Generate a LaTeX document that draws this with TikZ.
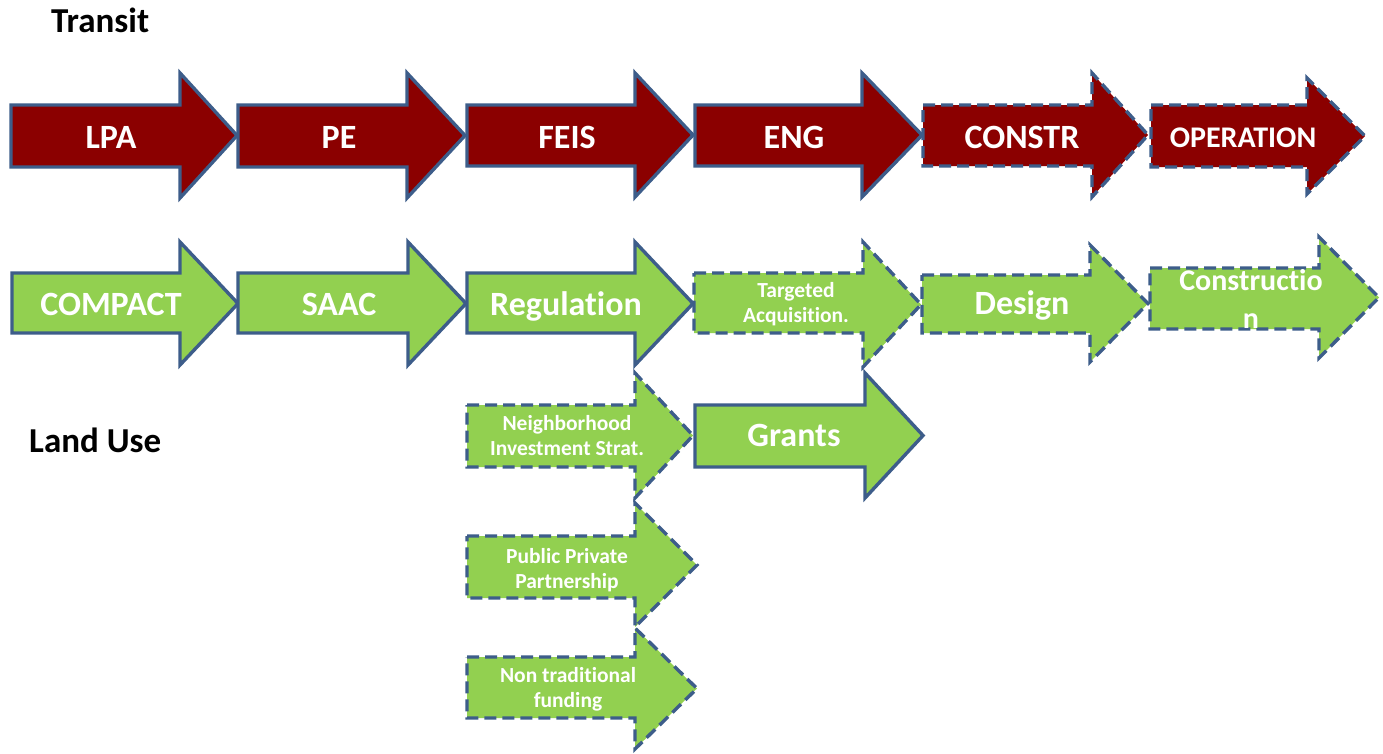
\documentclass[tikz,border=0pt]{standalone}
\usepackage{fontspec}
\setmainfont{Carlito}[Ligatures=NoCommon]
\definecolor{tred}{RGB}{139,0,0}
\definecolor{lgreen}{RGB}{146,208,80}
\definecolor{edgeblue}{RGB}{61,93,138}
% #1 style, #2 left, #3 body top, #4 body bottom, #5 head base x, #6 head top, #7 head bottom, #8 tip x
\newcommand\arrowshape[8]{\draw[#1] (#2,#3) -- (#5,#3) -- (#5,#6) -- (#8,{(#6+#7)/2}) -- (#5,#7) -- (#5,#4) -- (#2,#4) -- cycle;}
\tikzset{
  arrbase/.style={draw=edgeblue, line width=3.4pt, line join=miter},
  redsolid/.style={arrbase, fill=tred},
  reddash/.style={arrbase, fill=tred, dash pattern=on 12pt off 6pt},
  greensolid/.style={arrbase, fill=lgreen},
  greendash/.style={arrbase, fill=lgreen, dash pattern=on 12pt off 6pt},
  biglbl/.style={text=white, font=\bfseries\fontsize{34}{40}\selectfont, anchor=base, inner sep=0pt},
  midlbl/.style={text=white, font=\bfseries\fontsize{30}{38}\selectfont, anchor=base, inner sep=0pt, align=center},
  smalllbl/.style={text=white, font=\bfseries\fontsize{21.5}{25}\selectfont, anchor=base, inner sep=0pt, align=center},
  titlelbl/.style={text=black, font=\bfseries\fontsize{35}{40}\selectfont, anchor=base west, inner sep=0pt}
}
\begin{document}
\begin{tikzpicture}[x=1pt,y=-1pt]
\fill[white] (0,0) rectangle (1383,753);
\useasboundingbox (0,0) rectangle (1383,753);

% titles
\node[titlelbl] (transit) at (51,32) {Transit};
\node[titlelbl] (landuse) at (29,452) {Land Use};

% Transit row
\arrowshape{redsolid}{11}{105}{167}{180}{73}{198}{237}
\arrowshape{redsolid}{238}{105}{167}{407}{73}{198}{465}
\arrowshape{redsolid}{467}{105}{166}{635}{73}{197}{693}
\arrowshape{redsolid}{695}{105}{166}{862}{73}{197}{922}
\arrowshape{reddash}{923}{105}{166}{1092}{73}{197}{1148}
\arrowshape{reddash}{1151}{105}{167}{1307}{78}{194}{1365}

\node[biglbl] (lpa) at (111,148) {LPA};
\node[biglbl] (pe) at (339,148) {PE};
\node[biglbl] (feis) at (567,148) {FEIS};
\node[biglbl] (eng) at (794,148) {ENG};
\node[biglbl] (constr) at (1022,148) {CONSTR};
\node[biglbl, font=\bfseries\fontsize{30}{36}\selectfont] (operation) at (1243,147) {OPERATION};

% Land use row
\arrowshape{greensolid}{12}{273}{333}{180}{242}{365}{238}
\arrowshape{greensolid}{238}{273}{333}{408}{242}{365}{466}
\arrowshape{greensolid}{467}{273}{333}{635}{242}{365}{693}
\arrowshape{greendash}{694}{273}{333}{863}{242}{367}{921}
\arrowshape{greendash}{922}{275}{333}{1090}{245}{362}{1148}
\arrowshape{greendash}{1150}{268}{329}{1319}{237}{358}{1379}

\node[biglbl] (compact) at (111,315) {COMPACT};
\node[biglbl] (saac) at (339,315) {SAAC};
\node[biglbl] (regulation) at (566,315) {Regulation};
\node[smalllbl] (targeted) at (796,322) {Targeted\\Acquisition.};
\node[biglbl] (design) at (1022,314) {Design};
\node[midlbl] (construction) at (1251,328) {Constructio\\n};

% lower arrows
\arrowshape{greendash}{467}{405}{467}{635}{373}{498}{693}
\arrowshape{greensolid}{695}{405}{467}{865}{373}{498}{923}
\arrowshape{greendash}{467}{536}{598}{635}{503}{627}{697}
\arrowshape{greendash}{467}{657}{718}{635}{628}{749}{697}

\node[smalllbl] (nis) at (567,455) {Neighborhood\\Investment Strat.};
\node[biglbl] (grants) at (794,446) {Grants};
\node[smalllbl] (ppp) at (567,588) {Public Private\\Partnership};
\node[smalllbl] (ntf) at (568,707) {Non traditional\\funding};
\end{tikzpicture}
\end{document}
